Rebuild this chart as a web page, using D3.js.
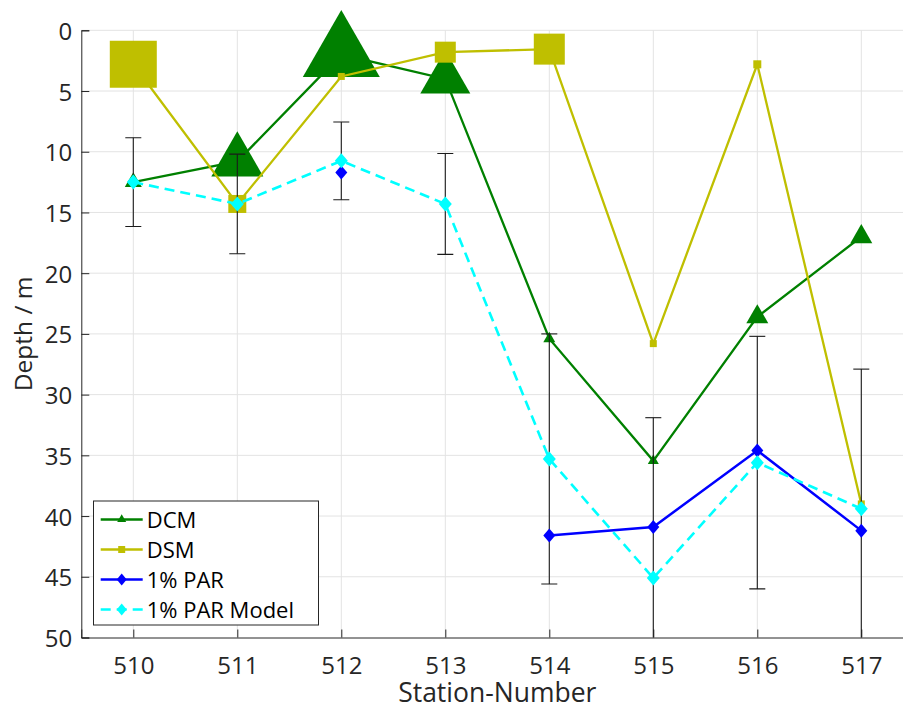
<!DOCTYPE html>
<html>
<head>
<meta charset="utf-8">
<script src="https://cdn.jsdelivr.net/npm/d3@7"></script>
<style>
  html, body { margin: 0; padding: 0; background: #fff; }
  svg { display: block; font-family: "Open Sans", "Noto Sans", sans-serif; }
</style>
</head>
<body>
<svg id="chart" width="903" height="709"></svg>
<script>
// ---- data ----
const stations = [510, 511, 512, 513, 514, 515, 516, 517];
const dcm      = [12.5, 10.8, 2.0, 4.0, 25.4, 35.45, 23.6, 17.0];
const dcmSize  = [17, 52, 77, 50, 12, 11, 22, 22];
const dsm      = [2.8, 14.3, 3.8, 1.8, 1.55, 25.8, 2.8, 39.0];
const dsmSize  = [47, 18, 7, 21, 31, 7, 8, 7];
const par      = [null, null, 11.7, null, 41.6, 40.9, 34.6, 41.2];
const parModel = [12.5, 14.3, 10.75, 14.3, 35.3, 45.1, 35.6, 39.4];
const parErr   = [3.65, 4.1, 3.2, 4.15, 10.3, 13.2, 10.4, 11.5];
const yTicks   = [0, 5, 10, 15, 20, 25, 30, 35, 40, 45, 50];
const seriesNames = ["DCM", "DSM", "1% PAR", "1% PAR Model"];

// ---- layout ----
const svg = d3.select("#chart");
const pLeft = 81.3, pRight = 913.3, pTop = 30.3, pBottom = 637.5;
const x = d3.scaleLinear().domain([509.5, 517.5]).range([pLeft, pRight]);
const y = d3.scaleLinear().domain([0, 50]).range([pTop, pBottom]);
const axisColor = "#262626";
const cGreen = "#008000", cYellow = "#BFBF00", cBlue = "#0000FF", cCyan = "#00FFFF";

svg.append("defs").append("clipPath").attr("id", "plotclip")
  .append("rect").attr("x", pLeft).attr("y", pTop).attr("width", pRight - pLeft).attr("height", pBottom - pTop);

// grid
const grid = svg.append("g").attr("stroke", "#e3e3e3").attr("stroke-width", 1);
grid.selectAll("line.v").data(stations).join("line").attr("class", "v")
  .attr("x1", d => x(d)).attr("x2", d => x(d)).attr("y1", pTop).attr("y2", pBottom);
grid.selectAll("line.h").data(yTicks.slice(0, -1)).join("line").attr("class", "h")
  .attr("x1", pLeft).attr("x2", pRight).attr("y1", d => y(d)).attr("y2", d => y(d));

// axes
const yAxis = d3.axisLeft(y).tickValues(yTicks).tickSize(-8).tickPadding(0).tickFormat(d3.format("d"));
const gy = svg.append("g").attr("transform", `translate(${pLeft},0)`).call(yAxis);
gy.select(".domain").attr("stroke", axisColor);
gy.selectAll(".tick line").attr("stroke", axisColor);
gy.selectAll(".tick text").attr("x", -9).attr("dy", null).attr("y", 9)
  .attr("fill", axisColor).style("font-size", "24px").style("font-family", "'Open Sans'");

const xAxis = d3.axisBottom(x).tickValues(stations).tickSize(-8).tickPadding(0).tickFormat(d3.format("d"));
const gx = svg.append("g").attr("transform", `translate(0,${pBottom})`).call(xAxis);
gx.select(".domain").attr("stroke", axisColor);
gx.selectAll(".tick line").attr("stroke", axisColor);
gx.selectAll(".tick text").attr("y", 36.5).attr("dy", null)
  .attr("fill", axisColor).style("font-size", "24px").style("font-family", "'Open Sans'");

// labels
svg.append("text").attr("x", (pLeft + pRight) / 2).attr("y", 701.5).attr("text-anchor", "middle")
  .attr("fill", axisColor).style("font-size", "26.5px").text("Station-Number");
svg.append("text").attr("transform", `translate(31.5,${(pTop + pBottom) / 2}) rotate(-90)`)
  .attr("text-anchor", "middle").attr("fill", axisColor).style("font-size", "24.5px").text("Depth / m");

// markers
function triPath(w) { const h = 0.87 * w; return `M0,${-2 * h / 3}L${w / 2},${h / 3}L${-w / 2},${h / 3}Z`; }
function sqPath(w) { return `M${-w / 2},${-w / 2}H${w / 2}V${w / 2}H${-w / 2}Z`; }
function diaPath(w, h) { return `M0,${-h / 2}L${w / 2},0L0,${h / 2}L${-w / 2},0Z`; }

const line = d3.line().defined(d => d[1] != null).x(d => x(d[0])).y(d => y(d[1]));
const pts = arr => stations.map((s, i) => [s, arr[i], i]);

// DCM
svg.append("path").datum(pts(dcm)).attr("d", line).attr("fill", "none")
  .attr("stroke", cGreen).attr("stroke-width", 2.3);
svg.append("g").selectAll("path").data(pts(dcm)).join("path")
  .attr("transform", d => `translate(${x(d[0])},${y(d[1])})`)
  .attr("d", d => triPath(dcmSize[d[2]])).attr("fill", cGreen);

// DSM
svg.append("path").datum(pts(dsm)).attr("d", line).attr("fill", "none")
  .attr("stroke", cYellow).attr("stroke-width", 2.3);
svg.append("g").selectAll("path").data(pts(dsm)).join("path")
  .attr("transform", d => `translate(${x(d[0])},${y(d[1])})`)
  .attr("d", d => sqPath(dsmSize[d[2]])).attr("fill", cYellow);

// error bars (on model)
const eb = svg.append("g").attr("clip-path", "url(#plotclip)").attr("stroke", "#1a1a1a").attr("stroke-width", 1.1);
stations.forEach((s, i) => {
  const cx = x(s), y1 = y(parModel[i] - parErr[i]), y2 = y(parModel[i] + parErr[i]);
  eb.append("line").attr("x1", cx).attr("x2", cx).attr("y1", y1).attr("y2", y2);
  eb.append("line").attr("x1", cx - 8).attr("x2", cx + 8).attr("y1", y1).attr("y2", y1);
  eb.append("line").attr("x1", cx - 8).attr("x2", cx + 8).attr("y1", y2).attr("y2", y2);
});

// 1% PAR
svg.append("path").datum(pts(par)).attr("d", line).attr("fill", "none")
  .attr("stroke", cBlue).attr("stroke-width", 2.5);
svg.append("g").selectAll("path").data(pts(par).filter(d => d[1] != null)).join("path")
  .attr("transform", d => `translate(${x(d[0])},${y(d[1])})`)
  .attr("d", diaPath(12, 14)).attr("fill", cBlue);

// 1% PAR Model
svg.append("path").datum(pts(parModel)).attr("d", line).attr("fill", "none")
  .attr("stroke", cCyan).attr("stroke-width", 2.6).attr("stroke-dasharray", "10,6");
svg.append("g").selectAll("path").data(pts(parModel)).join("path")
  .attr("transform", d => `translate(${x(d[0])},${y(d[1])})`)
  .attr("d", diaPath(13, 15)).attr("fill", cCyan);

// legend
const lg = svg.append("g");
lg.append("rect").attr("x", 93.5).attr("y", 501).attr("width", 225).attr("height", 124)
  .attr("fill", "#fff").attr("stroke", axisColor).attr("stroke-width", 1);
const legendStyles = [
  { c: cGreen, dash: null, m: triPath(9), w: 2.3 },
  { c: cYellow, dash: null, m: sqPath(7), w: 2.3 },
  { c: cBlue, dash: null, m: diaPath(10, 12), w: 2.5 },
  { c: cCyan, dash: "10,6", m: diaPath(10, 12), w: 2.6 }
];
seriesNames.forEach((name, i) => {
  const ly = 519.5 + i * 30;
  const st = legendStyles[i];
  lg.append("line").attr("x1", 100.7).attr("x2", 142.7).attr("y1", ly).attr("y2", ly)
    .attr("stroke", st.c).attr("stroke-width", st.w).attr("stroke-dasharray", st.dash);
  lg.append("path").attr("transform", `translate(121.7,${ly})`).attr("d", st.m).attr("fill", st.c);
  lg.append("text").attr("x", 146.7).attr("y", ly + 8.5).attr("fill", "#000")
    .style("font-size", "22px").text(name);
});
</script>
</body>
</html>
